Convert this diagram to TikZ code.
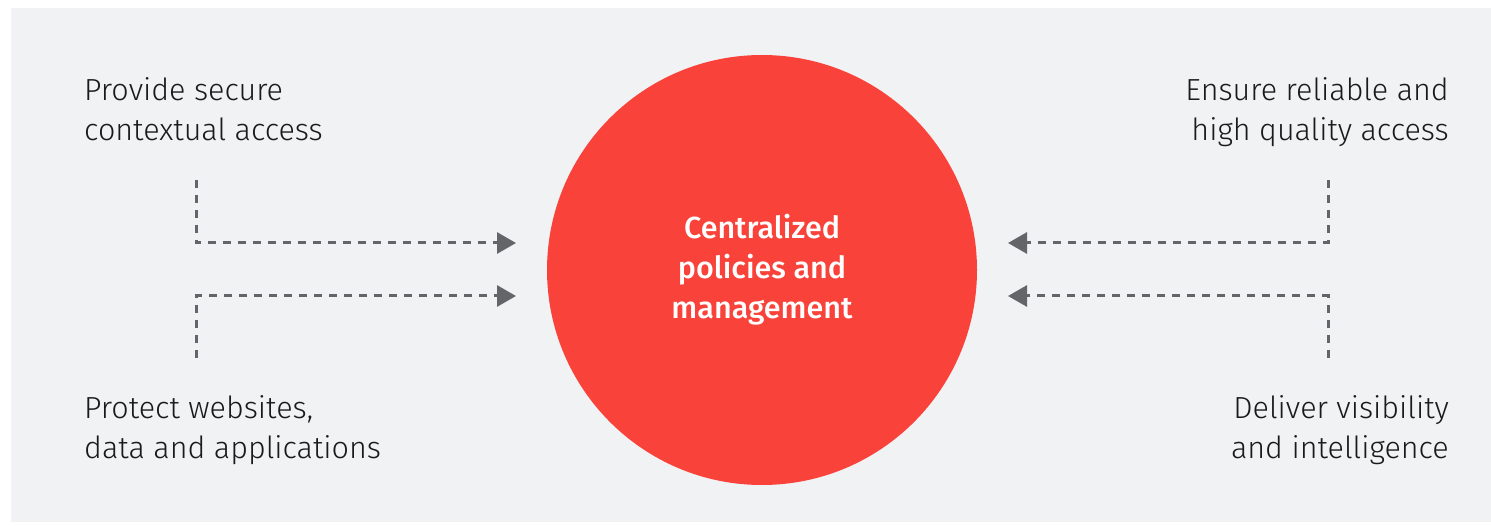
\documentclass[tikz,border=0pt]{standalone}
\usepackage{fontspec}
\setmainfont{Fira Sans}[UprightFont=* Light, BoldFont=* Medium]
\usetikzlibrary{arrows.meta}
\definecolor{bgc}{HTML}{F1F2F4}
\definecolor{redc}{HTML}{F9423A}
\definecolor{linec}{HTML}{636569}
\definecolor{txtc}{HTML}{1A1A1A}
\begin{document}
\begin{tikzpicture}[x=1pt,y=-1pt,
  lbl/.style={inner sep=0pt, font=\fontsize{30.5}{40}\selectfont, text=txtc},
  conn/.style={draw=linec, line width=3pt, dash pattern=on 8pt off 7pt, -{Triangle[length=19pt,width=21pt]}},
  hub/.style={circle, fill=redc, minimum size=430pt, inner sep=0pt, text=white, align=center, font=\bfseries\fontsize{30.5}{40}\selectfont}]
\useasboundingbox (0,0) rectangle (1491,526);
\fill[bgc] (11,8) rectangle (1491,522);
\node[hub] (c) at (762,270) {Centralized\\policies and\\management};
\node[lbl, anchor=north west, align=left] (t1) at (84,77) {Provide secure\\contextual access};
\node[lbl, anchor=north east, align=right] (t2) at (1449,77) {Ensure reliable and\\high quality access};
\node[lbl, anchor=north west, align=left] (t3) at (84,395) {Protect websites,\\data and applications};
\node[lbl, anchor=north east, align=right] (t4) at (1449,395) {Deliver visibility\\and intelligence};
\coordinate (s1) at (196,180); \coordinate (e1) at (516,243);
\coordinate (s2) at (196,358); \coordinate (e2) at (516,296);
\coordinate (s3) at (1328,180); \coordinate (e3) at (1008,243);
\coordinate (s4) at (1328,358); \coordinate (e4) at (1008,296);
\draw[conn] (s1) |- (e1);
\draw[conn] (s2) |- (e2);
\draw[conn] (s3) |- (e3);
\draw[conn] (s4) |- (e4);
\end{tikzpicture}
\end{document}
